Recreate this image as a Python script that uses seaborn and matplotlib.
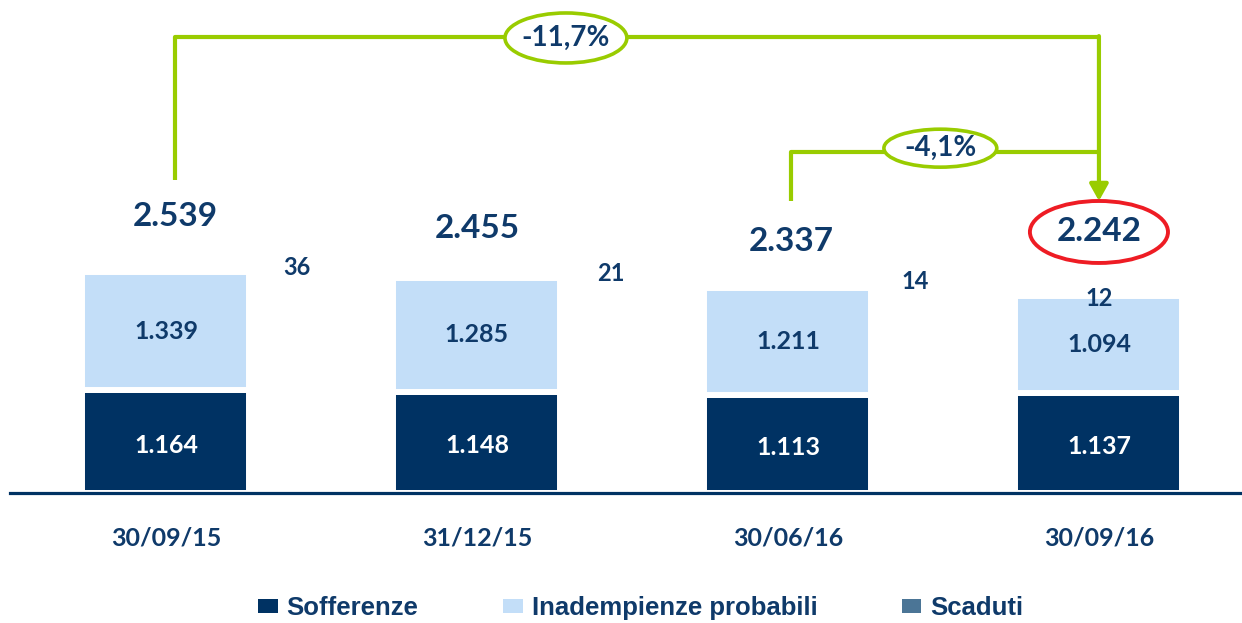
import matplotlib
matplotlib.use("Agg")
import matplotlib.pyplot as plt
import pandas as pd
import seaborn as sns
from matplotlib.patches import Ellipse, Patch
from matplotlib import font_manager

# ---- data -------------------------------------------------------------
dates = ["30/09/15", "31/12/15", "30/06/16", "30/09/16"]
sofferenze = [1164, 1148, 1113, 1137]
inadempienze = [1339, 1285, 1211, 1094]
scaduti = [36, 21, 14, 12]
totals = [2539, 2455, 2337, 2242]
series_names = ["Sofferenze", "Inadempienze probabili", "Scaduti"]

# ---- style ------------------------------------------------------------
NAVY = "#003263"
LIGHT = "#c3def8"
STEEL = "#4b7596"
TXT = "#0f3a6a"
GREEN = "#99cc00"
RED = "#ee1c24"
palette = dict(zip(series_names, [NAVY, LIGHT, STEEL]))

sns.set_theme(style="white")
available = {f.name for f in font_manager.fontManager.ttflist}
NUM_FONT = ["Lato", "DejaVu Sans"]
if "Liberation Sans Narrow" in available:
    LEG_FONT, LEG_SIZE, LEG_COLSP = ["Liberation Sans Narrow", "DejaVu Sans"], 20, 2.6
else:
    LEG_FONT, LEG_SIZE, LEG_COLSP = ["Liberation Sans", "DejaVu Sans"], 18.5, 3.3
plt.rcParams["font.family"] = NUM_FONT


def fmt(v):
    return f"{v:,}".replace(",", ".")


def pct(new, old):
    return f"{(new / old - 1) * 100:+.1f}%".replace(".", ",").replace("+", "")


long = pd.DataFrame({
    "data": dates * 3,
    "tipo": [series_names[0]] * 4 + [series_names[1]] * 4 + [series_names[2]] * 4,
    "valore": sofferenze + inadempienze + scaduti,
})

fig = plt.figure(figsize=(12.42, 6.23), dpi=100)
ax = fig.add_axes([10 / 1242, 130 / 623, 1232 / 1242, 493 / 623])

# stacked bars: seaborn stacks the last hue level at the bottom
sns.histplot(
    data=long, x="data", hue="tipo", weights="valore",
    hue_order=series_names[::-1], palette=palette,
    multiple="stack", discrete=True, shrink=0.537,
    edgecolor="white", linewidth=4.3, alpha=1, legend=False, ax=ax,
)

ax.set_xlim(-0.5016, 3.46)
ax.set_ylim(0, 5583)
ax.set_xlabel("")
ax.set_ylabel("")
ax.set_yticks([])
ax.set_xticks(range(len(dates)))
ax.set_xticklabels(dates, fontsize=18, fontweight="bold", color=TXT)
ax.tick_params(axis="x", length=0, pad=24)
for side in ("top", "left", "right"):
    ax.spines[side].set_visible(False)
ax.spines["bottom"].set_color(NAVY)
ax.spines["bottom"].set_linewidth(2.3)

# segment values
for i in range(len(dates)):
    ax.text(i, sofferenze[i] / 2 - 40, fmt(sofferenze[i]), ha="center", va="center",
            fontsize=18, fontweight="bold", color="white")
    ax.text(i, sofferenze[i] + inadempienze[i] / 2, fmt(inadempienze[i]), ha="center",
            va="center", fontsize=18, fontweight="bold", color=TXT)

# small "Scaduti" values
scad_dx = [0.42, 0.43, 0.41, 0.0]
scad_dy = [10, 35, 62, -35]
for i in range(len(dates)):
    top = sofferenze[i] + inadempienze[i] + scaduti[i]
    ax.text(i + scad_dx[i], top + scad_dy[i], fmt(scaduti[i]), ha="center", va="center",
            fontsize=17, fontweight="bold", color=TXT)

# totals
total_dx = [0.03, 0.0, 0.01, 0.0]
total_dy = [590, 535, 515, 714]
label_y = [t + d for t, d in zip(totals, total_dy)]
for i in range(len(dates)):
    ax.text(i + total_dx[i], label_y[i], fmt(totals[i]), ha="center", va="center",
            fontsize=24, fontweight="bold", color=TXT, zorder=6)

# highlight of the latest total
red_h = 702
ax.add_patch(Ellipse((3, label_y[3]), 0.444, red_h, facecolor="none",
                     edgecolor=RED, linewidth=2.8, zorder=5, clip_on=False))

# change brackets
lw_g = 3.0
top1, top2 = 5164, 3862
x_a = 0 + total_dx[0]
x_b = 2 + total_dx[2]
ax.plot([x_a, x_a, 3], [label_y[0] + 420, top1, top1], color=GREEN, lw=lw_g,
        solid_capstyle="butt", zorder=3, clip_on=False)
ax.plot([x_b, x_b, 3], [label_y[2] + 455, top2, top2], color=GREEN, lw=lw_g,
        solid_capstyle="butt", zorder=3, clip_on=False)
ax.annotate("", xy=(3, label_y[3] + red_h / 2), xytext=(3, top1 + 10),
            arrowprops=dict(arrowstyle="-|>,head_length=0.5,head_width=0.28",
                            color=GREEN, lw=lw_g, mutation_scale=20,
                            shrinkA=0, shrinkB=0), zorder=4)

for (cx, cy, w, h), txt in [((1.286, 5153, 0.392, 566), pct(totals[3], totals[0])),
                            ((2.49, 3905, 0.363, 430), pct(totals[3], totals[2]))]:
    ax.add_patch(Ellipse((cx, cy), w, h, facecolor="white", edgecolor=GREEN,
                         linewidth=2.6, zorder=5, clip_on=False))
    ax.text(cx, cy, txt, ha="center", va="center", fontsize=20,
            fontweight="bold", color=TXT, zorder=6)

# legend
handles = [Patch(facecolor=palette[n], edgecolor="none") for n in series_names]
fig.legend(handles, series_names, loc="center", ncol=3, frameon=False,
           bbox_to_anchor=(641 / 1242, 1 - 608 / 623),
           prop=dict(family=LEG_FONT, size=LEG_SIZE, weight="bold"),
           labelcolor=TXT, handlelength=0.75, handleheight=0.45,
           handletextpad=0.35, columnspacing=LEG_COLSP)

fig.savefig("out.png", dpi=100)
